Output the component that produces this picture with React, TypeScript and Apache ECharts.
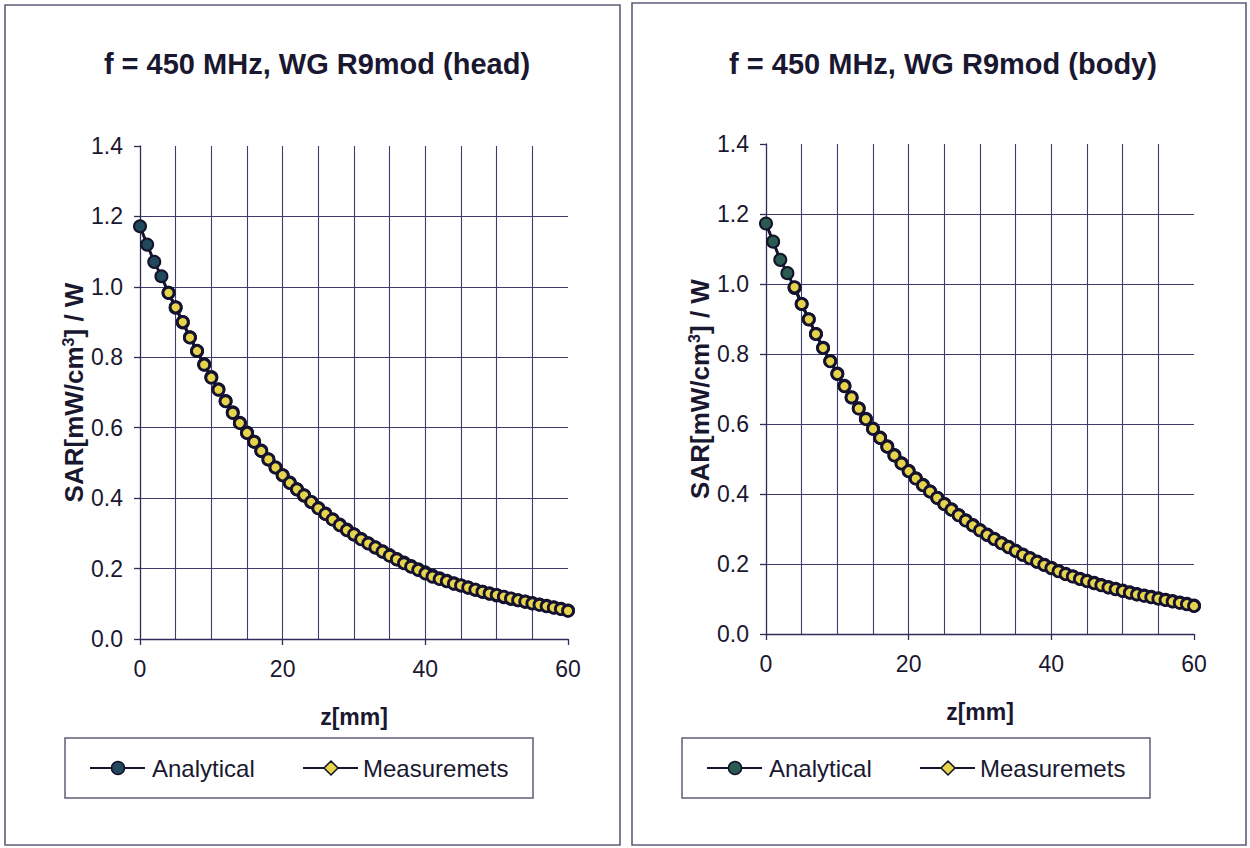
import React, { useEffect, useRef } from "react";
import * as echarts from "echarts";

// Depth along the waveguide axis, mm
const zMm = [
  0, 1, 2, 3, 4, 5, 6, 7, 8, 9, 10, 11, 12, 13, 14, 15, 16, 17, 18, 19, 20,
  21, 22, 23, 24, 25, 26, 27, 28, 29, 30, 31, 32, 33, 34, 35, 36, 37, 38, 39, 40,
  41, 42, 43, 44, 45, 46, 47, 48, 49, 50, 51, 52, 53, 54, 55, 56, 57, 58, 59, 60,
];

// SAR per watt, head tissue simulant (mW/cm^3 / W)
const headAnalytical = [
  1.172, 1.12, 1.071, 1.03, 0.983, 0.941, 0.899, 0.857, 0.818, 0.78, 0.744,
  0.709, 0.676, 0.644, 0.614, 0.586, 0.56, 0.535, 0.51, 0.487, 0.465,
  0.444, 0.425, 0.407, 0.389, 0.372, 0.356, 0.34, 0.325, 0.311, 0.297,
  0.284, 0.272, 0.26, 0.249, 0.238, 0.227, 0.217, 0.207, 0.198, 0.189,
  0.18, 0.172, 0.165, 0.158, 0.152, 0.146, 0.14, 0.134, 0.129, 0.124,
  0.119, 0.114, 0.11, 0.106, 0.102, 0.098, 0.094, 0.09, 0.086, 0.081,
];
const headMeasured = [
  null, null, null, null, 0.983, 0.942, 0.9, 0.856, 0.818, 0.779, 0.742,
  0.708, 0.675, 0.642, 0.613, 0.585, 0.56, 0.534, 0.51, 0.487, 0.465,
  0.443, 0.425, 0.408, 0.389, 0.371, 0.355, 0.339, 0.323, 0.309, 0.297,
  0.283, 0.271, 0.26, 0.248, 0.236, 0.226, 0.215, 0.205, 0.196, 0.186,
  0.177, 0.17, 0.164, 0.157, 0.152, 0.146, 0.14, 0.134, 0.129, 0.125,
  0.12, 0.115, 0.11, 0.106, 0.101, 0.097, 0.093, 0.089, 0.085, 0.08,
];

// SAR per watt, body tissue simulant (mW/cm^3 / W)
const bodyAnalytical = [
  1.173, 1.121, 1.069, 1.031, 0.989, 0.943, 0.899, 0.857, 0.818, 0.78, 0.744,
  0.709, 0.676, 0.645, 0.615, 0.587, 0.561, 0.536, 0.511, 0.488, 0.466,
  0.445, 0.426, 0.407, 0.389, 0.372, 0.356, 0.34, 0.325, 0.311, 0.297,
  0.284, 0.272, 0.26, 0.249, 0.238, 0.227, 0.217, 0.207, 0.198, 0.189,
  0.18, 0.172, 0.165, 0.158, 0.152, 0.146, 0.14, 0.134, 0.129, 0.124,
  0.119, 0.114, 0.11, 0.106, 0.102, 0.098, 0.094, 0.09, 0.086, 0.081,
];
const bodyMeasured = [
  null, null, null, null, 0.991, 0.943, 0.899, 0.857, 0.817, 0.779, 0.743,
  0.708, 0.676, 0.644, 0.614, 0.586, 0.56, 0.535, 0.51, 0.487, 0.465,
  0.444, 0.425, 0.407, 0.389, 0.371, 0.355, 0.339, 0.324, 0.31, 0.296,
  0.283, 0.271, 0.259, 0.248, 0.237, 0.226, 0.216, 0.206, 0.197, 0.188,
  0.179, 0.171, 0.164, 0.157, 0.151, 0.145, 0.139, 0.133, 0.128, 0.123,
  0.118, 0.113, 0.109, 0.105, 0.101, 0.097, 0.093, 0.089, 0.085, 0.08,
];

const seriesNames = ["Analytical", "Measuremets"];
const panelTitles = ["f = 450 MHz, WG R9mod (head)", "f = 450 MHz, WG R9mod (body)"];
const xAxisTitle = "z[mm]";

const FONT = "Arial, 'Liberation Sans', Helvetica, sans-serif";
const INK = "#1a1830";
const GRID = "#3e3c6a";
const AXIS = "#2f2d58";
const FRAME = "#5f5d78";
const LINE = "#16142e";
const ANALYTIC_FILL = ["#21485c", "#2b5a50"];
const MEASURE_FILL = "#e6d44c";

const toPairs = (vals: (number | null)[]) =>
  zMm.map((z, i) => [z, vals[i]]).filter((p) => p[1] !== null);

// Panel layout (page pixels)
const panels = [
  { frame: [5, 5, 615, 840], grid: { left: 140, top: 146, width: 428, height: 493 }, center: 312, legend: 65 },
  { frame: [632, 3, 614, 842], grid: { left: 766, top: 144, width: 428, height: 490 }, center: 938, legend: 682 },
];

function legendGraphics(left: number, idx: number) {
  const y = 768;
  return [
    {
      type: "rect",
      shape: { x: left, y: 738, width: 468, height: 60 },
      style: { fill: "#ffffff", stroke: FRAME, lineWidth: 1.5 },
      z: 10,
    },
    { type: "line", shape: { x1: left + 25, y1: y, x2: left + 80, y2: y }, style: { stroke: LINE, lineWidth: 2.2 }, z: 11 },
    { type: "circle", shape: { cx: left + 53, cy: y, r: 6.5 }, style: { fill: ANALYTIC_FILL[idx], stroke: "#121228", lineWidth: 1.5 }, z: 12 },
    {
      type: "text",
      x: left + 87,
      y,
      style: { text: seriesNames[0], fill: INK, font: `24px ${FONT}`, textVerticalAlign: "middle", verticalAlign: "middle" },
      z: 12,
    },
    { type: "line", shape: { x1: left + 238, y1: y, x2: left + 293, y2: y }, style: { stroke: LINE, lineWidth: 2.2 }, z: 11 },
    {
      type: "polygon",
      shape: { points: [[left + 266, y - 7], [left + 273, y], [left + 266, y + 7], [left + 259, y]] },
      style: { fill: MEASURE_FILL, stroke: "#121228", lineWidth: 1.5 },
      z: 12,
    },
    {
      type: "text",
      x: left + 298,
      y,
      style: { text: seriesNames[1], fill: INK, font: `24px ${FONT}`, textVerticalAlign: "middle", verticalAlign: "middle" },
      z: 12,
    },
  ];
}

export default function App() {
  const ref = useRef<HTMLDivElement>(null);

  useEffect(() => {
    if (!ref.current) return;
    const chart = echarts.init(ref.current, undefined, { renderer: "svg" });

    const xAxes = panels.map((_, i) => ({
      type: "value",
      gridIndex: i,
      min: 0,
      max: 60,
      interval: 20,
      name: xAxisTitle,
      nameLocation: "middle",
      nameGap: 66,
      nameTextStyle: { fontFamily: FONT, fontSize: 23, fontWeight: "bold", color: INK },
      axisLine: { show: true, lineStyle: { color: AXIS, width: 1.3 } },
      axisTick: { show: true, inside: false, length: 6, lineStyle: { color: AXIS, width: 1.3 } },
      axisLabel: { fontFamily: FONT, fontSize: 23, color: INK, margin: 18 },
      splitLine: { show: true, showMinLine: false, showMaxLine: false, lineStyle: { color: GRID, width: 1.1 } },
      minorTick: { show: false, splitNumber: 4 },
      minorSplitLine: { show: true, lineStyle: { color: GRID, width: 1.1 } },
    }));

    const yAxes = panels.map((_, i) => ({
      type: "value",
      gridIndex: i,
      min: 0,
      max: 1.4,
      interval: 0.2,
      name: "{a|SAR[mW/cm}{s|3}{a|] / W}",
      nameLocation: "middle",
      nameRotate: 90,
      nameGap: 43,
      nameTextStyle: {
        rich: {
          a: { fontFamily: FONT, fontSize: 26, fontWeight: "bold", color: INK, lineHeight: 28 },
          s: { fontFamily: FONT, fontSize: 16, fontWeight: "bold", color: INK, verticalAlign: "top", lineHeight: 28 },
        },
      },
      axisLine: { show: true, lineStyle: { color: AXIS, width: 1.3 } },
      axisTick: { show: true, inside: false, length: 6, lineStyle: { color: AXIS, width: 1.3 } },
      axisLabel: {
        fontFamily: FONT,
        fontSize: 23,
        color: INK,
        margin: 17,
        formatter: (v: number) => v.toFixed(1),
      },
      splitLine: { show: true, showMinLine: false, showMaxLine: false, lineStyle: { color: GRID, width: 1.1 } },
    }));

    const datasets = [
      [headAnalytical, headMeasured],
      [bodyAnalytical, bodyMeasured],
    ];

    const series: any[] = [];
    datasets.forEach((pair, i) => {
      series.push({
        name: seriesNames[0],
        type: "line",
        xAxisIndex: i,
        yAxisIndex: i,
        data: toPairs(pair[0]),
        symbol: "circle",
        symbolSize: 12,
        showSymbol: true,
        lineStyle: { color: LINE, width: 3 },
        itemStyle: { color: ANALYTIC_FILL[i], borderColor: "#121228", borderWidth: 2 },
        z: 3,
      });
      series.push({
        name: seriesNames[1],
        type: "line",
        xAxisIndex: i,
        yAxisIndex: i,
        data: toPairs(pair[1]),
        symbol: "circle",
        symbolSize: 11,
        showSymbol: true,
        lineStyle: { color: LINE, width: 3 },
        itemStyle: { color: MEASURE_FILL, borderColor: "#141230", borderWidth: 2.8 },
        z: 4,
      });
    });

    const graphic: any[] = [];
    panels.forEach((p, i) => {
      graphic.push({
        type: "rect",
        shape: { x: p.frame[0], y: p.frame[1], width: p.frame[2], height: p.frame[3] },
        style: { fill: "none", stroke: FRAME, lineWidth: 1.6 },
        z: -1,
        silent: true,
      });
      graphic.push(...legendGraphics(p.legend, i));
    });

    chart.setOption({
      animation: false,
      backgroundColor: "#ffffff",
      title: panels.map((p, i) => ({
        text: panelTitles[i],
        left: p.center,
        top: 44,
        textAlign: "center",
        textStyle: { fontFamily: FONT, fontSize: 29, fontWeight: "bold", color: INK },
      })),
      grid: panels.map((p) => ({ ...p.grid, containLabel: false })),
      xAxis: xAxes,
      yAxis: yAxes,
      series,
      graphic,
    });

    return () => chart.dispose();
  }, []);

  return (
    <div
      ref={ref}
      style={{ position: "fixed", left: 0, top: 0, width: 1250, height: 848, background: "#ffffff" }}
    />
  );
}
